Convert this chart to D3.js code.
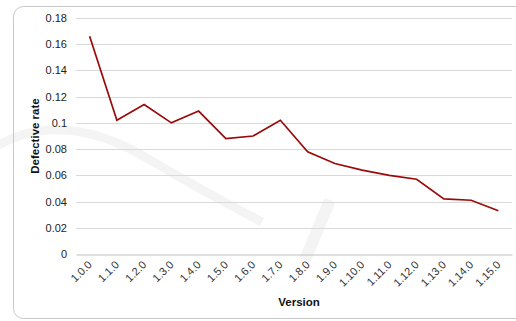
<!DOCTYPE html>
<html>
<head>
<meta charset="utf-8">
<script src="https://cdn.jsdelivr.net/npm/d3@7"></script>
<style>
  body { margin: 0; background: #fff; }
  text { font-family: "Liberation Sans", Arial, sans-serif; }
</style>
</head>
<body>
<div id="chart"></div>
<script>
// data
const versions = ['1.0.0', '1.1.0', '1.2.0', '1.3.0', '1.4.0', '1.5.0', '1.6.0', '1.7.0',
  '1.8.0', '1.9.0', '1.10.0', '1.11.0', '1.12.0', '1.13.0', '1.14.0', '1.15.0'];
const defectiveRate = [0.166, 0.102, 0.114, 0.100, 0.109, 0.088, 0.090, 0.102,
  0.078, 0.069, 0.064, 0.060, 0.057, 0.042, 0.041, 0.033];
const yTicks = [0, 0.02, 0.04, 0.06, 0.08, 0.1, 0.12, 0.14, 0.16, 0.18];

const W = 516, H = 321;
const MARGIN_LEFT = 76, MARGIN_RIGHT = 4, MARGIN_TOP = 18, MARGIN_BOTTOM = 67;

const svg = d3.select('#chart').append('svg').attr('width', W).attr('height', H);

// faint background watermark (shapes only)
const wm = svg.append('g').attr('fill', 'none').attr('stroke', '#f4f4f4');
wm.append('path')
  .attr('d', 'M-10,150 Q60,105 150,160 Q210,195 262,222')
  .attr('stroke-width', 9);
wm.append('path')
  .attr('d', 'M330,200 L305,260')
  .attr('stroke-width', 12);

// chart frame (rounded)
svg.append('rect')
  .attr('x', 13.5).attr('y', 6.5)
  .attr('width', 530).attr('height', 312)
  .attr('rx', 10)
  .attr('fill', 'none')
  .attr('stroke', '#c8c8c8');

const x = d3.scaleBand()
  .domain(versions)
  .range([MARGIN_LEFT, W - MARGIN_RIGHT]);

const y = d3.scaleLinear()
  .domain([0, 0.18])
  .range([H - MARGIN_BOTTOM, MARGIN_TOP]);

// gridlines
svg.append('g')
  .selectAll('line')
  .data(yTicks.slice(1))
  .join('line')
  .attr('x1', MARGIN_LEFT).attr('x2', W - MARGIN_RIGHT)
  .attr('y1', d => Math.round(y(d)) + 0.5).attr('y2', d => Math.round(y(d)) + 0.5)
  .attr('stroke', '#d9d9d9');

// y axis
const yAxis = svg.append('g')
  .attr('transform', `translate(${MARGIN_LEFT},0)`)
  .call(d3.axisLeft(y).tickValues(yTicks).tickSize(0).tickPadding(9).tickFormat(d => String(d)));
yAxis.select('.domain').remove();
yAxis.selectAll('text').attr('font-size', 11).attr('fill', '#222').style('font-family', 'Liberation Sans, Arial');

// x axis
const xAxis = svg.append('g')
  .attr('transform', `translate(0,${Math.round(y(0)) + 0.5})`)
  .call(d3.axisBottom(x).tickSize(0).tickSizeOuter(0));
xAxis.select('.domain').attr('stroke', '#bfbfbf');
xAxis.selectAll('text')
  .attr('font-size', 11)
  .attr('fill', '#333')
  .style('font-family', 'Liberation Sans, Arial')
  .attr('text-anchor', 'end')
  .attr('dy', 0)
  .attr('y', 0)
  .attr('transform', 'translate(3,11) rotate(-45)');

// line
svg.append('path')
  .datum(defectiveRate)
  .attr('fill', 'none')
  .attr('stroke', '#9b0a0a')
  .attr('stroke-width', 1.7)
  .attr('d', d3.line()
    .x((d, i) => x(versions[i]) + x.bandwidth() / 2)
    .y(d => y(d)));

// axis titles
svg.append('text')
  .attr('transform', `translate(39,${(MARGIN_TOP + H - MARGIN_BOTTOM) / 2}) rotate(-90)`)
  .attr('text-anchor', 'middle')
  .attr('font-size', 11.5)
  .attr('font-weight', 'bold')
  .attr('fill', '#111')
  .text('Defective rate');

svg.append('text')
  .attr('x', 299).attr('y', 306)
  .attr('text-anchor', 'middle')
  .attr('font-size', 11.5)
  .attr('font-weight', 'bold')
  .attr('fill', '#111')
  .text('Version');
</script>
</body>
</html>
